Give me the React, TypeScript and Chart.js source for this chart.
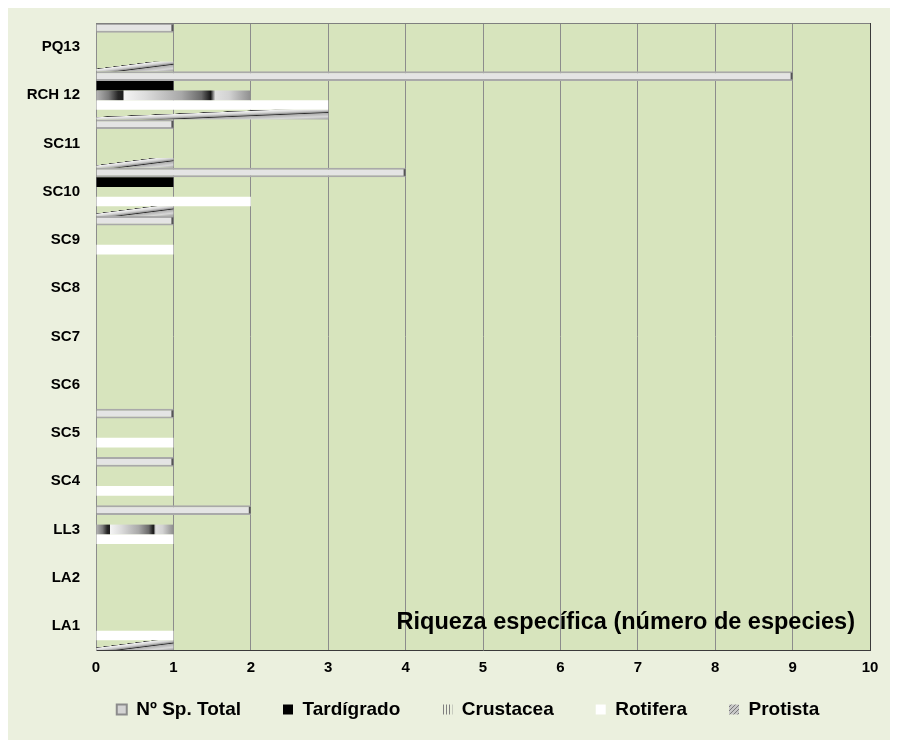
import React, { useEffect, useRef } from 'react';
import { Chart, registerables } from 'chart.js';

Chart.register(...registerables);

// ---- data ----
const categories = ['PQ13', 'RCH 12', 'SC11', 'SC10', 'SC9', 'SC8', 'SC7', 'SC6', 'SC5', 'SC4', 'LL3', 'LA2', 'LA1'];
const totalSp = [1, 9, 1, 4, 1, 0, 0, 0, 1, 1, 2, 0, 0];
const tardigrado = [0, 1, 0, 1, 0, 0, 0, 0, 0, 0, 0, 0, 0];
const crustacea = [0, 2, 0, 0, 0, 0, 0, 0, 0, 0, 1, 0, 0];
const rotifera = [0, 3, 0, 2, 1, 0, 0, 0, 1, 1, 1, 0, 1];
const protista = [1, 3, 1, 1, 0, 0, 0, 0, 0, 0, 0, 0, 1];
const seriesNames = ['Nº Sp. Total', 'Tardígrado', 'Crustacea', 'Rotifera', 'Protista'];
const xMin = 0;
const xMax = 10;
const xStep = 1;
const chartTitle = 'Riqueza específica (número de especies)';

const FONT = "'Liberation Sans', Arial, Helvetica, sans-serif";
const PLOT_BG = '#D7E4BD';

// zero counts draw no bar at all
const nz = (arr: number[]) => arr.map((v) => (v === 0 ? null : v));

function barRect(bar: any) {
  const p = bar.getProps(['x', 'y', 'base', 'height'], true);
  const l = Math.min(p.x, p.base);
  const r = Math.max(p.x, p.base);
  return { l, r, t: p.y - p.height / 2, h: p.height, w: r - l };
}

const decorPlugin = {
  id: 'decor',
  afterLayout(chart: any) {
    // centre the legend row under the plot like the original
    const lg = chart.legend;
    if (lg) {
      lg.left += 29;
      lg.right += 29;
    }
  },
  beforeDraw(chart: any) {
    const { ctx, chartArea: a } = chart;
    ctx.save();
    ctx.fillStyle = PLOT_BG;
    ctx.fillRect(a.left, a.top, a.right - a.left, a.bottom - a.top);
    ctx.restore();
  },
  afterDatasetsDraw(chart: any) {
    const { ctx, chartArea: a } = chart;
    ctx.save();
    // Crustacea: stretched striped texture
    const crustStops: [number, string][] = [
      [0, '#B4B4B4'], [0.08, '#7A7A7A'], [0.14, '#262626'], [0.17, '#1E1E1E'], [0.18, '#F4F4F4'],
      [0.32, '#DCDCDC'], [0.55, '#A8A8A8'], [0.68, '#6A6A6A'], [0.74, '#151515'], [0.77, '#E0E0E0'],
      [0.86, '#D2D2D2'], [1, '#8E8E8E'],
    ];
    chart.getDatasetMeta(2).data.forEach((bar: any, i: number) => {
      const v = chart.data.datasets[2].data[i];
      if (!v) return;
      const { l, r, t, h, w } = barRect(bar);
      const g = ctx.createLinearGradient(l, 0, r, 0);
      crustStops.forEach(([o, c]) => g.addColorStop(o, c));
      ctx.fillStyle = g;
      ctx.fillRect(l, t, w, h);
    });
    // Protista: stretched diagonal stripe
    const protStops: [number, string][] = [
      [0, 'rgba(0,0,0,0)'], [0.36, 'rgba(0,0,0,0)'], [0.37, '#3A3A3A'], [0.41, '#F0F0F0'],
      [0.52, '#D0D0D0'], [0.6, '#9A9A9A'], [0.64, '#2E2E2E'], [0.68, '#B0B0B0'], [0.85, '#D8D8D8'], [1, '#A0A0A0'],
    ];
    chart.getDatasetMeta(4).data.forEach((bar: any, i: number) => {
      const v = chart.data.datasets[4].data[i];
      if (!v) return;
      const { l, t, h, w } = barRect(bar);
      const L = Math.sqrt(w * w + h * h);
      const nx = h / L, ny = w / L;
      const d = (w * h) / L;
      const cx = l + w / 2, cy = t + h / 2;
      const g = ctx.createLinearGradient(cx - d * nx, cy - d * ny, cx + d * nx, cy + d * ny);
      protStops.forEach(([o, c]) => g.addColorStop(o, c));
      ctx.fillStyle = g;
      ctx.fillRect(l, t, w, h);
    });
    // Total: dark end cap
    chart.getDatasetMeta(0).data.forEach((bar: any, i: number) => {
      const v = chart.data.datasets[0].data[i];
      if (!v) return;
      const { r, t, h } = barRect(bar);
      ctx.fillStyle = '#555555';
      ctx.fillRect(r - 2, t + 1.5, 2, h - 3);
    });
    // plot frame top / right
    ctx.strokeStyle = '#7F7F7F';
    ctx.lineWidth = 1;
    ctx.beginPath();
    ctx.moveTo(a.left, Math.round(a.top) + 0.5);
    ctx.lineTo(a.right, Math.round(a.top) + 0.5);
    ctx.stroke();
    ctx.strokeStyle = '#3A3A3A';
    ctx.beginPath();
    ctx.moveTo(Math.round(a.right) + 0.5, a.top);
    ctx.lineTo(Math.round(a.right) + 0.5, a.bottom);
    ctx.stroke();
    // title inside plot
    ctx.fillStyle = '#000000';
    ctx.font = `bold 23.5px ${FONT}`;
    ctx.textAlign = 'right';
    ctx.textBaseline = 'middle';
    ctx.fillText(chartTitle, a.right - 15, a.bottom - 27);
    ctx.restore();
  },
};

export default function App() {
  const ref = useRef<HTMLCanvasElement>(null);

  useEffect(() => {
    const canvas = ref.current as HTMLCanvasElement;

    const crustCanvas = document.createElement('canvas');
    crustCanvas.width = 3;
    crustCanvas.height = 3;
    const cc = crustCanvas.getContext('2d') as CanvasRenderingContext2D;
    cc.fillStyle = '#7F7F7F';
    cc.fillRect(0, 0, 1, 3);
    const hatchCanvas = document.createElement('canvas');
    hatchCanvas.width = 4;
    hatchCanvas.height = 4;
    const hc = hatchCanvas.getContext('2d') as CanvasRenderingContext2D;
    hc.fillStyle = '#C8C8C8';
    hc.fillRect(0, 0, 4, 4);
    hc.fillStyle = '#7A7A7A';
    for (let k = 0; k < 4; k++) hc.fillRect(3 - k, k, 1, 1);
    const ctx0 = canvas.getContext('2d') as CanvasRenderingContext2D;
    const crustPattern = ctx0.createPattern(crustCanvas, 'repeat');
    const hatchPattern = ctx0.createPattern(hatchCanvas, 'repeat');

    const legendStyles: any[] = [
      { fillStyle: '#D4D4D4', strokeStyle: '#8C8C8C', lineWidth: 2 },
      { fillStyle: '#000000', strokeStyle: '#000000', lineWidth: 0 },
      { fillStyle: crustPattern, strokeStyle: 'rgba(0,0,0,0)', lineWidth: 0 },
      { fillStyle: '#FFFFFF', strokeStyle: '#FFFFFF', lineWidth: 0 },
      { fillStyle: hatchPattern, strokeStyle: 'rgba(0,0,0,0)', lineWidth: 0 },
    ];

    const chart = new Chart(canvas, {
      type: 'bar',
      data: {
        labels: categories,
        datasets: [
          {
            label: seriesNames[0], data: nz(totalSp), backgroundColor: '#E4E4E4', borderColor: '#A9A9A9',
            borderWidth: { top: 2, bottom: 2, left: 0, right: 0 }, borderSkipped: false,
          },
          { label: seriesNames[1], data: nz(tardigrado), backgroundColor: '#000000' },
          { label: seriesNames[2], data: nz(crustacea), backgroundColor: 'rgba(0,0,0,0)' },
          { label: seriesNames[3], data: nz(rotifera), backgroundColor: '#FFFFFF' },
          { label: seriesNames[4], data: nz(protista), backgroundColor: 'rgba(0,0,0,0)' },
        ],
      } as any,
      options: {
        indexAxis: 'y',
        responsive: false,
        animation: false,
        devicePixelRatio: 1,
        layout: { padding: { left: 0, right: 28, top: 15, bottom: 11 } },
        datasets: { bar: { categoryPercentage: 1, barPercentage: 1, inflateAmount: 0 } },
        scales: {
          x: {
            min: xMin, max: xMax,
            ticks: { stepSize: xStep, color: '#000000', mirror: true, padding: -27, font: { family: FONT, size: 15, weight: 'bold' } },
            grid: { color: '#8C8C8C', lineWidth: 1, drawTicks: false },
            border: { display: true, color: '#3A3A3A', width: 1 },
            afterFit: (s: any) => { s.height = 8; s.paddingLeft = 0; s.paddingRight = 0; },
          },
          y: {
            ticks: { color: '#000000', padding: 16, autoSkip: false, font: { family: FONT, size: 15, weight: 'bold' } },
            grid: { display: false, drawTicks: false },
            border: { display: true, color: '#8C8C8C', width: 1 },
            afterFit: (s: any) => { s.width = 88; s.paddingTop = 0; s.paddingBottom = 0; },
          },
        },
        plugins: {
          legend: {
            position: 'bottom',
            labels: {
              boxWidth: 10, boxHeight: 10, padding: 42, color: '#000000',
              font: { family: FONT, size: 19, weight: 'bold' },
              generateLabels: (c: any) => {
                const items = (Chart.defaults.plugins.legend.labels as any).generateLabels(c);
                return items.map((it: any, i: number) => ({ ...it, ...legendStyles[i] }));
              },
            },
          },
          tooltip: { enabled: false },
        },
      } as any,
      plugins: [decorPlugin],
    });
    return () => chart.destroy();
  }, []);

  return (
    <div
      style={{
        marginLeft: -2, marginTop: -3, width: 892, height: 735, background: '#EBF0DE',
        borderLeft: '2px solid #979B90', borderTop: '2px solid #979B90', boxSizing: 'border-box',
        paddingTop: 1, overflow: 'hidden',
      }}
    >
      <canvas ref={ref} width={890} height={732} style={{ display: 'block', width: 890, height: 732 }} />
    </div>
  );
}
